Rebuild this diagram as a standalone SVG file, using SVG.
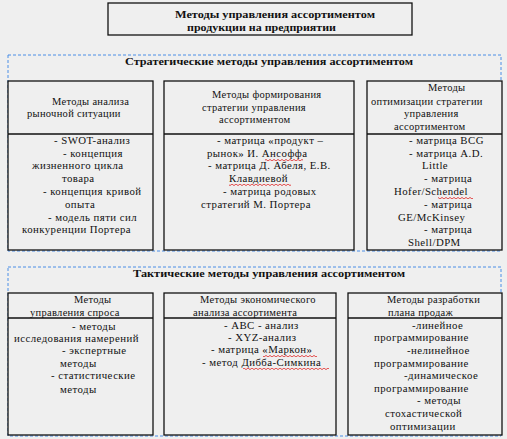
<svg xmlns="http://www.w3.org/2000/svg" width="507" height="439" viewBox="0 0 507 439">
<defs>
<pattern id="wave" width="4" height="2" patternUnits="userSpaceOnUse">
<path d="M0 0 L2 1.6 L4 0" fill="none" stroke="#e02020" stroke-width="0.8"/>
</pattern>
</defs>
<style>
.bg{fill:#efefef}
.box{fill:#efefef;stroke:#111;stroke-width:1.3}
.div{stroke:#111;stroke-width:1.3}
.dash{fill:none;stroke:#4a8ee6;stroke-width:1;stroke-dasharray:3 2}
text{font-family:"Liberation Serif","Times New Roman",serif;fill:#111}
.t{font-size:10.8px;letter-spacing:0.45px}
.h{font-size:10.5px;letter-spacing:0.3px}
.b{font-size:11px;font-weight:bold}
.sq{fill:url(#wave)}
</style>
<rect class="bg" x="0" y="0" width="507" height="439"/>

<g id="title">
<rect class="box" x="108" y="3" width="304" height="32"/>
<text class="b" x="175" y="18" textLength="200" lengthAdjust="spacingAndGlyphs">Методы управления ассортиментом</text>
<text class="b" x="187" y="30.5" textLength="149" lengthAdjust="spacingAndGlyphs">продукции на предприятии</text>
</g>

<g id="strategic">
<rect class="dash" x="8" y="55" width="493" height="196"/>
<text class="b" x="125" y="65" textLength="288" lengthAdjust="spacingAndGlyphs">Стратегические  методы управления ассортиментом</text>
</g>

<g id="s1">
<rect class="box" x="8" y="81" width="145" height="169"/>
<line class="div" x1="8" y1="134" x2="153" y2="134"/>
<text class="h" x="52" y="105">Методы анализа</text>
<text class="h" x="27" y="117">рыночной ситуации</text>
<text class="t" x="54" y="144">- SWOT-анализ</text>
<text class="t" x="63" y="157">- концепция</text>
<text class="t" x="32" y="169">жизненного цикла</text>
<text class="t" x="62" y="182">товара</text>
<text class="t" x="43" y="195">- концепция кривой</text>
<text class="t" x="65" y="208">опыта</text>
<text class="t" x="48" y="221">- модель пяти сил</text>
<text class="t" x="22" y="233">конкуренции Портера</text>
</g>

<g id="s2">
<rect class="box" x="164" y="81" width="190" height="169"/>
<line class="div" x1="164" y1="134" x2="354" y2="134"/>
<text class="h" x="212" y="98">Методы формирования</text>
<text class="h" x="202" y="111">стратегии управления</text>
<text class="h" x="219" y="123">ассортиментом</text>
<text class="t" x="217" y="144">- матрица «продукт –</text>
<text class="t" x="207" y="157">рынок» И. Ансоффа</text>
<text class="t" x="208" y="169">- матрица Д. Абеля, Е.В.</text>
<text class="t" x="229" y="182">Клавдиевой</text>
<text class="t" x="223" y="195">- матрица родовых</text>
<text class="t" x="201" y="208">стратегий М. Портера</text>
<rect class="sq" x="265" y="159" width="38" height="2"/>
<rect class="sq" x="229" y="184" width="62" height="2"/>
</g>

<g id="s3">
<rect class="box" x="367" y="81" width="135" height="169"/>
<line class="div" x1="367" y1="134" x2="502" y2="134"/>
<text class="h" x="428" y="91">Методы</text>
<text class="h" x="371" y="105">оптимизации стратегии</text>
<text class="h" x="404" y="117">управления</text>
<text class="h" x="394" y="130">ассортиментом</text>
<text class="t" x="409" y="144">- матрица BCG</text>
<text class="t" x="409" y="157">- матрица A.D.</text>
<text class="t" x="422" y="169">Little</text>
<text class="t" x="424" y="182">- матрица</text>
<text class="t" x="394" y="195">Hofer/Schendel</text>
<text class="t" x="424" y="208">- матрица</text>
<text class="t" x="398" y="221">GE/McKinsey</text>
<text class="t" x="424" y="233">- матрица</text>
<text class="t" x="408" y="246">Shell/DPM</text>
<rect class="sq" x="438" y="197" width="35" height="2"/>
</g>

<g id="tactical">
<rect class="dash" x="8" y="267" width="493" height="169"/>
<text class="b" x="133" y="277" textLength="272" lengthAdjust="spacingAndGlyphs">Тактические  методы управления ассортиментом</text>
</g>

<g id="t1">
<rect class="box" x="8" y="293" width="145" height="142"/>
<line class="div" x1="8" y1="318" x2="153" y2="318"/>
<text class="h" x="74" y="303">Методы</text>
<text class="h" x="30" y="316">управления спроса</text>
<text class="t" x="72" y="330">- методы</text>
<text class="t" x="14" y="342">исследования намерений</text>
<text class="t" x="62" y="354">- экспертные</text>
<text class="t" x="60" y="367">методы</text>
<text class="t" x="51" y="379">- статистические</text>
<text class="t" x="60" y="393">методы</text>
</g>

<g id="t2">
<rect class="box" x="164" y="293" width="172" height="142"/>
<line class="div" x1="164" y1="318" x2="336" y2="318"/>
<text class="h" x="200" y="303">Методы экономического</text>
<text class="h" x="193" y="316">анализа ассортимента</text>
<text class="t" x="224" y="329">- АВС - анализ</text>
<text class="t" x="228" y="341">- XYZ-анализ</text>
<text class="t" x="211" y="353">- матрица «Маркон»</text>
<text class="t" x="202" y="366">- метод Дибба-Симкина</text>
<rect class="sq" x="263" y="355" width="54" height="2"/>
<rect class="sq" x="243" y="368" width="86" height="2"/>
</g>

<g id="t3">
<rect class="box" x="348" y="293" width="154" height="142"/>
<line class="div" x1="348" y1="318" x2="502" y2="318"/>
<text class="h" x="387" y="303">Методы разработки</text>
<text class="h" x="388" y="316">плана продаж</text>
<text class="t" x="412" y="329">-линейное</text>
<text class="t" x="374" y="341">программирование</text>
<text class="t" x="407" y="354">-нелинейное</text>
<text class="t" x="374" y="367">программирование</text>
<text class="t" x="404" y="379">-динамическое</text>
<text class="t" x="374" y="392">программирование</text>
<text class="t" x="417" y="404">- методы</text>
<text class="t" x="385" y="417">стохастической</text>
<text class="t" x="390" y="430">оптимизации</text>
</g>

<g id="connectors"/>
</svg>
